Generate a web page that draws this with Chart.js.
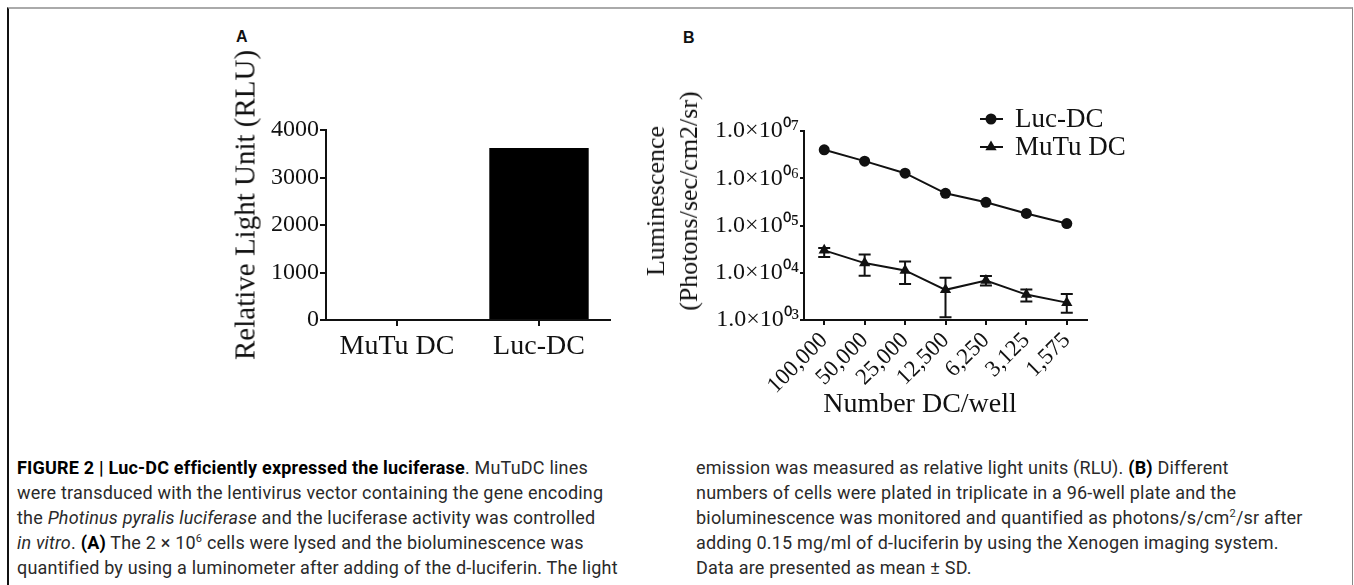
<!DOCTYPE html>
<html>
<head>
<meta charset="utf-8">
<script src="https://cdn.jsdelivr.net/npm/chart.js@4.4.0/dist/chart.umd.min.js"></script>
<style>
  html, body { margin: 0; padding: 0; background: #fff; }
  #page { position: relative; width: 1354px; height: 585px; overflow: hidden; background: #fff; }
  #frame { position: absolute; left: 7px; top: 7px; width: 1343px; height: 600px;
           border-top: 2px solid #aaa; border-left: 2px solid #111; border-right: 1px solid #888; }
  canvas { position: absolute; }
  .tag { position: absolute; font: bold 16px "Liberation Sans", Arial, sans-serif; color: #111; }
  .title { position: absolute; font-family: "Liberation Serif", "Times New Roman", serif; color: #111;
           white-space: nowrap; text-align: center; }
  .rot { transform: translate(-50%, -50%) rotate(-90deg); }
  .hor { transform: translate(-50%, -50%); }
  .caption { position: absolute; top: 455px; font: 18px Roboto, "Liberation Sans", sans-serif;
             letter-spacing: 0.2px; color: #2a2a2a; line-height: 25px; white-space: nowrap; }
  .caption b { color: #000; }
  .caption sup { font-size: 11px; line-height: 0; vertical-align: 7px; }
</style>
</head>
<body>
<div id="page">
  <div id="frame"></div>

  <div class="tag" style="left:236px; top:28px;">A</div>
  <div class="tag" style="left:683px; top:29px;">B</div>

  <canvas id="chartA" width="440" height="390" style="left:200px; top:20px;"></canvas>
  <canvas id="chartB" width="520" height="380" style="left:640px; top:20px;"></canvas>

  <div class="title rot" style="left:245px; top:205px; font-size:29px;">Relative Light Unit (RLU)</div>
  <div class="title rot" style="left:672px; top:201px; font-size:26px; line-height:33px;">Luminescence<br>(Photons/sec/cm2/sr)</div>
  <div class="title hor" style="left:920px; top:403px; font-size:28px;">Number DC/well</div>

  <div class="caption" style="left:17px;">
    <div><b>FIGURE 2 | Luc-DC efficiently expressed the luciferase</b>. MuTuDC lines</div>
    <div>were transduced with the lentivirus vector containing the gene encoding</div>
    <div>the <i>Photinus pyralis luciferase</i> and the luciferase activity was controlled</div>
    <div><i>in vitro</i>. <b>(A)</b> The 2 × 10<sup>6</sup> cells were lysed and the bioluminescence was</div>
    <div>quantified by using a luminometer after adding of the d-luciferin. The light</div>
  </div>
  <div class="caption" style="left:696px;">
    <div>emission was measured as relative light units (RLU). <b>(B)</b> Different</div>
    <div>numbers of cells were plated in triplicate in a 96-well plate and the</div>
    <div>bioluminescence was monitored and quantified as photons/s/cm<sup>2</sup>/sr after</div>
    <div>adding 0.15 mg/ml of d-luciferin by using the Xenogen imaging system.</div>
    <div>Data are presented as mean ± SD.</div>
  </div>
</div>

<script>
// Panel A: luciferase activity (RLU)
const barCategories = ['MuTu DC', 'Luc-DC'];
const barValues = [0, 3620];
const barTicks = [0, 1000, 2000, 3000, 4000];

// Panel B: luminescence vs number of cells per well
const doseLabels = ['100,000', '50,000', '25,000', '12,500', '6,250', '3,125', '1,575'];
const lucDC = [4.0e6, 2.3e6, 1.28e6, 4.8e5, 3.1e5, 1.8e5, 1.1e5];
const mutuDC = [2.98e4, 1.6e4, 1.12e4, 4.35e3, 6.85e3, 3.45e3, 2.33e3];
const mutuLow = [2.16e4, 8.6e3, 5.8e3, 1.14e3, 5.4e3, 2.45e3, 1.43e3];
const mutuHigh = [3.35e4, 2.42e4, 1.74e4, 7.8e3, 8.5e3, 4.4e3, 3.57e3];
const logTicks = [1e3, 1e4, 1e5, 1e6, 1e7];

const serif = '"Liberation Serif", "Times New Roman", serif';
const ink = '#111';

// 1.0x10^07 style labels
function sciLabel(v) {
    const sup = '⁰¹²³⁴⁵⁶⁷⁸⁹';
    const exp = String(Math.round(Math.log10(v))).padStart(2, '0');
    return '1.0×10' + exp.split('').map(d => sup[d]).join('');
}

function axisStyle(tickLen) {
    return {
        grid: { display: true, drawOnChartArea: false, offset: false, color: ink, lineWidth: 2, tickLength: tickLen },
        border: { display: true, color: ink, width: 2 }
    };
}

// Error bars (mean +/- SD) for the MuTu DC series
const errorBars = {
    id: 'errorBars',
    beforeDatasetsDraw(chart) {
        const { ctx, scales: { x, y } } = chart;
        ctx.save();
        ctx.strokeStyle = ink;
        ctx.lineWidth = 2;
        mutuLow.forEach((lo, i) => {
            const px = x.getPixelForValue(i);
            const yl = y.getPixelForValue(lo);
            const yh = y.getPixelForValue(mutuHigh[i]);
            ctx.beginPath();
            ctx.moveTo(px, yl); ctx.lineTo(px, yh);
            ctx.moveTo(px - 6, yl); ctx.lineTo(px + 6, yl);
            ctx.moveTo(px - 6, yh); ctx.lineTo(px + 6, yh);
            ctx.stroke();
        });
        ctx.restore();
    }
};

// Legend drawn as line + marker + label
const lineLegend = {
    id: 'lineLegend',
    afterDraw(chart, args, opts) {
        const ctx = chart.ctx;
        chart.data.datasets.forEach((ds, i) => {
            const cy = opts.y + i * opts.gap;
            ctx.save();
            ctx.strokeStyle = ink;
            ctx.fillStyle = ink;
            ctx.lineWidth = 2;
            ctx.beginPath();
            ctx.moveTo(opts.x - 11, cy);
            ctx.lineTo(opts.x + 12, cy);
            ctx.stroke();
            Chart.helpers.drawPoint(ctx, { pointStyle: ds.pointStyle, radius: ds.pointRadius, rotation: 0, borderWidth: 0 }, opts.x, cy);
            ctx.font = opts.size + 'px ' + serif;
            ctx.textBaseline = 'middle';
            ctx.textAlign = 'left';
            ctx.fillText(ds.label, opts.x + 24, cy + 1);
            ctx.restore();
        });
    }
};

new Chart(document.getElementById('chartA'), {
    type: 'bar',
    data: {
        labels: barCategories,
        datasets: [{
            data: barValues,
            backgroundColor: '#000',
            borderWidth: 0,
            barPercentage: 0.7,
            categoryPercentage: 1
        }]
    },
    options: {
        responsive: false,
        animation: false,
        devicePixelRatio: 1,
        layout: { padding: { top: 110, right: 30, left: 0, bottom: 0 } },
        plugins: { legend: { display: false }, tooltip: { enabled: false } },
        scales: {
            x: {
                ...axisStyle(6),
                ticks: { color: ink, font: { family: serif, size: 28 }, padding: 4 },
                afterFit: s => { s.height = 90; }
            },
            y: {
                min: 0,
                max: 4000,
                ...axisStyle(6),
                afterBuildTicks: s => { s.ticks = barTicks.map(v => ({ value: v })); },
                ticks: { color: ink, font: { family: serif, size: 24 }, padding: 1, callback: v => String(v) },
                afterFit: s => { s.width = 126; }
            }
        }
    }
});

new Chart(document.getElementById('chartB'), {
    type: 'line',
    data: {
        labels: doseLabels,
        datasets: [
            {
                label: 'Luc-DC',
                data: lucDC,
                borderColor: ink,
                backgroundColor: ink,
                borderWidth: 2,
                pointStyle: 'circle',
                pointRadius: 5.5,
                pointBorderWidth: 0,
                tension: 0
            },
            {
                label: 'MuTu DC',
                data: mutuDC,
                borderColor: ink,
                backgroundColor: ink,
                borderWidth: 2,
                pointStyle: 'triangle',
                pointRadius: 6.5,
                pointBorderWidth: 0,
                tension: 0
            }
        ]
    },
    options: {
        responsive: false,
        animation: false,
        devicePixelRatio: 1,
        layout: { padding: { top: 111, right: 73, left: 0, bottom: 0 } },
        plugins: {
            legend: { display: false },
            tooltip: { enabled: false },
            lineLegend: { x: 351, y: 99, gap: 28, size: 27 }
        },
        scales: {
            x: {
                offset: true,
                ...axisStyle(5),
                ticks: { color: ink, font: { family: serif, size: 23 }, maxRotation: 45, minRotation: 45, autoSkip: false, padding: 2 },
                afterFit: s => { s.height = 80; }
            },
            y: {
                type: 'logarithmic',
                min: 1e3,
                max: 1e7,
                ...axisStyle(4),
                afterBuildTicks: s => { s.ticks = logTicks.map(v => ({ value: v })); },
                ticks: { color: ink, font: { family: serif, size: 24 }, padding: 1, callback: v => sciLabel(v) },
                afterFit: s => { s.width = 164; }
            }
        }
    },
    plugins: [errorBars, lineLegend]
});
</script>
</body>
</html>
